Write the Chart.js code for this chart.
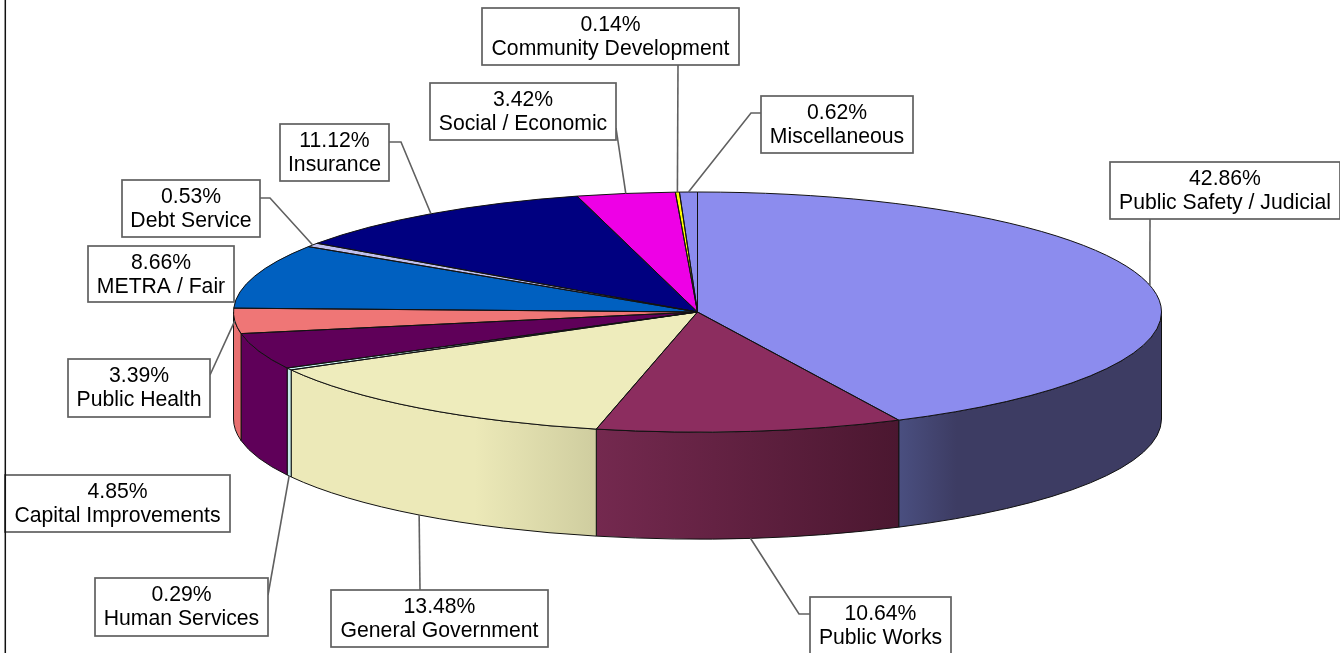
<!DOCTYPE html>
<html>
<head>
<meta charset="utf-8">
<style>
  html, body { margin: 0; padding: 0; background: #fff; overflow: hidden; }
  canvas { display: block; }
</style>
<script src="https://cdn.jsdelivr.net/npm/chart.js@4/dist/chart.umd.min.js"></script>
</head>
<body>
<canvas id="budget-chart" width="1340" height="653"></canvas>
<script>
// ── Data ──────────────────────────────────────────────────
const categories = [
  'Public Safety / Judicial', 'Public Works', 'General Government', 'Human Services',
  'Capital Improvements', 'Public Health', 'METRA / Fair', 'Debt Service',
  'Insurance', 'Social / Economic', 'Community Development', 'Miscellaneous'
];
const shares = [42.86, 10.64, 13.48, 0.29, 4.85, 3.39, 8.66, 0.53, 11.12, 3.42, 0.14, 0.62];

const topColors = [
  '#8c8cee', '#8c2d5f', '#eeecbc', '#ccf2f2', '#5f0059', '#ef7676',
  '#0060c0', '#c0c0ee', '#000080', '#ee00e6', '#ffff00', '#8c8cee'
];
// wall shading, [left, right] of each slice's visible side
const wallColors = [
  ['#4a4f80', '#3d3c63'], ['#74294f', '#4b1730'], ['#ece9b8', '#cfcd9f'], ['#c6eaea', '#c6eaea'],
  ['#5f0059', '#5f0059'], ['#e87070', '#e87070'], ['#0060c0', '#0060c0'], ['#c0c0ee', '#c0c0ee'],
  ['#000080', '#000080'], ['#ee00e6', '#ee00e6'], ['#ffff00', '#ffff00'], ['#8c8cee', '#8c8cee']
];

// ── Layout ────────────────────────────────────────────────
const RX = 464, RY = 120, DEPTH = 107, PIE_R = 232;
const FONT = '21.2px "Liberation Sans", Arial, sans-serif';

// box per category: x, y, w, h. via = bend points of the leader line, onTop = leader stops on the top face
const labelBoxes = [
  { x: 1110, y: 162, w: 230, h: 57, via: [[1150, 219]], onTop: true },
  { x: 810, y: 597, w: 141, h: 57, via: [[810, 614], [799, 614]] },
  { x: 331, y: 590, w: 217, h: 57, via: [[420, 590]] },
  { x: 95, y: 578, w: 173, h: 58, via: [[268, 595]] },
  { x: 5, y: 475, w: 225, h: 57, noLeader: true },
  { x: 68, y: 359, w: 142, h: 58, via: [[210, 375]], onTop: true },
  { x: 88, y: 246, w: 146, h: 56, noLeader: true },
  { x: 122, y: 180, w: 138, h: 57, via: [[260, 198], [270, 198]], onTop: true },
  { x: 280, y: 124, w: 109, h: 57, via: [[389, 142], [401, 142]], onTop: true },
  { x: 430, y: 83, w: 186, h: 57, via: [[616, 128]], onTop: true },
  { x: 482, y: 8, w: 257, h: 57, via: [[678, 65]], onTop: true },
  { x: 761, y: 96, w: 152, h: 57, via: [[761, 113], [751, 113]], onTop: true }
];

// ── 3D plugin: walls under the pie, squashed top face, outlines, callouts ──
const pie3d = {
  id: 'pie3d',

  beforeDatasetDraw(chart, args) {
    const ctx = chart.ctx;
    const arcs = args.meta.data;
    const cx = arcs[0].x, cy = arcs[0].y;

    arcs.forEach((arc, i) => {
      const a0 = Math.max(norm(arc.startAngle), 0);
      const a1 = Math.min(norm(arc.startAngle) + (arc.endAngle - arc.startAngle), Math.PI);
      if (a1 <= a0) return;
      const xa = cx + RX * Math.cos(a1), xb = cx + RX * Math.cos(a0);
      const grad = ctx.createLinearGradient(xa, 0, xb, 0);
      grad.addColorStop(0, wallColors[i][0]);
      if (i === 2) grad.addColorStop(0.6, wallColors[i][0]);
      if (i === 0) grad.addColorStop(0.22, wallColors[i][1]);
      grad.addColorStop(1, wallColors[i][1]);

      ctx.save();
      ctx.beginPath();
      ctx.ellipse(cx, cy, RX, RY, 0, a0, a1);
      ctx.ellipse(cx, cy + DEPTH, RX, RY, 0, a1, a0, true);
      ctx.closePath();
      ctx.fillStyle = grad;
      ctx.fill();
      ctx.strokeStyle = '#111';
      ctx.lineWidth = 1;
      ctx.stroke();
      ctx.restore();
    });

    // squash the round pie into the ellipse of the top face
    ctx.save();
    ctx.translate(cx, cy);
    ctx.scale(RX / PIE_R, RY / PIE_R);
    ctx.translate(-cx, -cy);
  },

  afterDatasetDraw(chart, args) {
    const ctx = chart.ctx;
    ctx.restore();

    const arcs = args.meta.data;
    const cx = arcs[0].x, cy = arcs[0].y;
    ctx.save();
    ctx.strokeStyle = '#111';
    ctx.lineWidth = 1;
    arcs.forEach(arc => {
      ctx.beginPath();
      ctx.moveTo(cx, cy);
      ctx.ellipse(cx, cy, RX, RY, 0, arc.startAngle, arc.endAngle);
      ctx.closePath();
      ctx.stroke();
    });
    ctx.restore();
  },

  afterDraw(chart) {
    const ctx = chart.ctx;
    const arcs = chart.getDatasetMeta(0).data;
    const cx = arcs[0].x, cy = arcs[0].y;
    ctx.save();

    // leader lines run to the middle of their slice
    ctx.strokeStyle = '#606060';
    ctx.lineWidth = 1.6;
    labelBoxes.forEach((box, i) => {
      if (box.noLeader) return;
      const mid = (arcs[i].startAngle + arcs[i].endAngle) / 2;
      const ax = cx + RX * Math.cos(mid);
      const ay = cy + RY * Math.sin(mid) + (box.onTop ? 0 : DEPTH);
      ctx.beginPath();
      box.via.forEach((p, j) => j ? ctx.lineTo(p[0], p[1]) : ctx.moveTo(p[0], p[1]));
      ctx.lineTo(ax, ay);
      ctx.stroke();
    });

    // callout boxes
    ctx.font = FONT;
    ctx.textAlign = 'center';
    ctx.textBaseline = 'middle';
    labelBoxes.forEach((box, i) => {
      ctx.fillStyle = '#fff';
      ctx.fillRect(box.x, box.y, box.w, box.h);
      ctx.lineWidth = 1.7;
      ctx.strokeRect(box.x, box.y, box.w, box.h);
      ctx.fillStyle = '#000';
      const mx = box.x + box.w / 2;
      const top = box.y + 28.5;
      ctx.fillText(shares[i].toFixed(2) + '%', mx, top - 11.5);
      ctx.fillText(categories[i], mx, top + 13);
    });

    // left frame line, the only one that survives the crop
    ctx.strokeStyle = '#111';
    ctx.lineWidth = 1.5;
    ctx.beginPath();
    ctx.moveTo(5.3, 0);
    ctx.lineTo(5.3, 653);
    ctx.stroke();
    ctx.restore();
  }
};

// arc angles start at -90deg, bring them to where the front half is 0..PI
function norm(a) {
  const t = a % (Math.PI * 2);
  return t < -Math.PI / 2 ? t + Math.PI * 2 : t;
}

// ── Chart ─────────────────────────────────────────────────
new Chart(document.getElementById('budget-chart').getContext('2d'), {
  type: 'pie',
  data: {
    labels: categories,
    datasets: [{
      data: shares,
      backgroundColor: topColors,
      borderWidth: 0,
      hoverOffset: 0
    }]
  },
  options: {
    responsive: false,
    animation: false,
    radius: PIE_R,
    layout: { padding: { left: 55, bottom: 29 } },
    plugins: { legend: { display: false }, tooltip: { enabled: false } }
  },
  plugins: [pie3d]
});
</script>
</body>
</html>
